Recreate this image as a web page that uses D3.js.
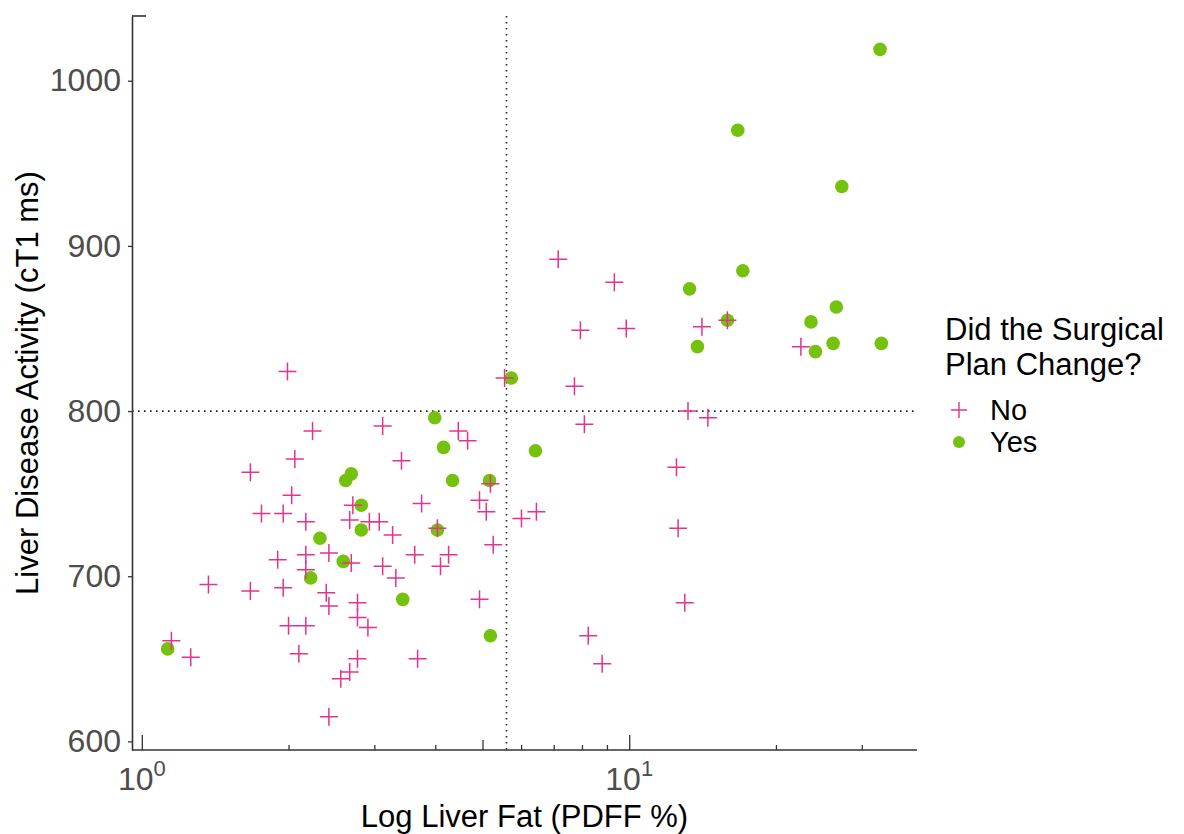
<!DOCTYPE html>
<html>
<head>
<meta charset="utf-8">
<script src="https://cdn.jsdelivr.net/npm/d3@7"></script>
<style>
    body { margin: 0; background: #fff; }
    text { font-family: "Liberation Sans", Arial, sans-serif; }
</style>
</head>
<body>
<div id="chart"></div>
<script>
// Liver fat vs cT1, split by whether the surgical plan changed
var noFat = [1.15, 1.26, 1.37, 1.67, 1.67, 1.76, 1.95, 1.90, 1.95, 1.99,
             2.00, 2.03, 2.06, 2.10, 2.17, 2.17, 2.17, 2.17, 2.24, 2.39,
             2.42, 2.42, 2.42, 2.56, 2.67, 2.67, 2.69, 2.71, 2.77, 2.77,
             2.77, 2.91, 2.93, 3.07, 3.12, 3.12, 3.27, 3.32, 3.41, 3.63,
             3.68, 3.75, 4.04, 4.10, 4.26, 4.46, 4.66, 4.93, 4.93, 5.09,
             5.19, 5.26, 5.55, 6.01, 6.45, 7.15, 7.72, 8.09, 7.94, 8.24,
             8.80, 9.32, 9.86, 12.5, 12.6, 13.0, 13.2, 14.1, 14.5, 15.9,
             22.5];
var noCt1 = [661, 651, 695, 691, 763, 738, 738, 710, 693, 824,
             670, 749, 771, 653, 733, 713, 704, 670, 788, 690,
             714, 682, 615, 638, 734, 642, 708, 743, 684, 675,
             650, 669, 733, 733, 706, 791, 725, 699, 770, 713,
             650, 744, 729, 706, 713, 788, 782, 746, 686, 739,
             756, 719, 820, 735, 739, 892, 815, 792, 849, 664,
             647, 878, 850, 766, 729, 684, 800, 851, 796, 855,
             839];
var yesFat = [1.13, 2.22, 2.59, 2.32, 2.62, 2.69, 2.82, 2.82, 3.43, 3.99,
              4.16, 4.34, 4.04, 5.17, 5.19, 5.73, 6.42, 13.3, 13.8, 15.9,
              16.7, 17.1, 23.6, 24.1, 26.2, 26.6, 27.3, 32.7, 32.9];
var yesCt1 = [656, 699, 709, 723, 758, 762, 743, 728, 686, 796,
              778, 758, 728, 758, 664, 820, 776, 874, 839, 855,
              970, 885, 854, 836, 841, 863, 936, 1019, 841];

var xMajorTicks = [1, 10];
var xMajorExp = ['0', '1'];
var xMidTicks = [5];
var xMinorTicks = [2, 3, 4, 6, 7, 8, 9, 20, 30];
var yTicks = [600, 700, 800, 900, 1000];
var fatCutoff = 5.6;
var ct1Cutoff = 800;
var legendTitle = ['Did the Surgical', 'Plan Change?'];
var legendLabels = ['No', 'Yes'];

(function () {
    const Width = 1184, Height = 834,
        Left = 132, Right = 917, Top = 16, Bottom = 750,
        Pink = '#e5338b', Green = '#74c20e',
        AxisColour = '#333333', TickText = '#4d4d4d',
        TickFont = 32, TitleFont = 31, LegendFont = 31, LabelFont = 29,
        Cross = 9, Dot = 6.8;

    var svg = d3.select('#chart')
        .append('svg')
        .attr('width', Width)
        .attr('height', Height);

    // ggplot style 5% padding, in log space for x
    var allFat = noFat.concat(yesFat),
        allCt1 = noCt1.concat(yesCt1);
    var lo = Math.log10(d3.min(allFat)), hi = Math.log10(d3.max(allFat)),
        padX = (hi - lo) * 0.05;
    var x = d3.scaleLog()
        .domain([Math.pow(10, lo - padX), Math.pow(10, hi + padX)])
        .range([Left, Right]);
    var yMin = d3.min(allCt1), yMax = d3.max(allCt1),
        padY = (yMax - yMin) * 0.05;
    var y = d3.scaleLinear()
        .domain([yMin - padY, yMax + padY])
        .range([Bottom, Top]);

    // reference lines
    var refs = svg.append('g')
        .attr('stroke', '#222')
        .attr('stroke-width', 1.6)
        .attr('stroke-dasharray', '1.6,4.4');
    refs.append('line')
        .attr('x1', x(fatCutoff)).attr('x2', x(fatCutoff))
        .attr('y1', Top).attr('y2', Bottom);
    refs.append('line')
        .attr('x1', Left).attr('x2', Right)
        .attr('y1', y(ct1Cutoff)).attr('y2', y(ct1Cutoff));

    // y axis
    var yAxis = svg.append('g')
        .attr('transform', `translate(${Left},0)`)
        .call(d3.axisLeft(y).tickValues(yTicks).tickFormat(d3.format('d'))
            .tickSize(4).tickSizeOuter(0).tickPadding(7));
    yAxis.select('.domain').attr('stroke', AxisColour).attr('stroke-width', 1.6);
    yAxis.selectAll('.tick line').attr('stroke', AxisColour).attr('stroke-width', 1.3);
    yAxis.selectAll('.tick text')
        .attr('fill', TickText)
        .style('font-size', TickFont + 'px')
        .style('font-family', '"Liberation Sans", Arial, sans-serif');
    svg.append('line')
        .attr('x1', Left).attr('x2', Left + 14)
        .attr('y1', Top).attr('y2', Top)
        .attr('stroke', AxisColour).attr('stroke-width', 1.6);

    // x axis with inward log ticks
    function logTicks(vals, len) {
        var g = svg.append('g')
            .attr('transform', `translate(0,${Bottom})`)
            .call(d3.axisBottom(x).tickValues(vals).tickSize(-len).tickSizeOuter(0).tickFormat(''));
        g.select('.domain').remove();
        g.selectAll('.tick line').attr('stroke', AxisColour).attr('stroke-width', 1.3);
        return g;
    }
    logTicks(xMinorTicks, 5);
    logTicks(xMidTicks, 10);
    logTicks(xMajorTicks, 15);
    svg.append('line')
        .attr('x1', Left).attr('x2', Right)
        .attr('y1', Bottom).attr('y2', Bottom)
        .attr('stroke', AxisColour).attr('stroke-width', 1.6);

    var xLabels = svg.append('g').selectAll('text')
        .data(xMajorTicks)
        .enter().append('text')
        .attr('x', d => x(d))
        .attr('y', Bottom + 40)
        .attr('text-anchor', 'middle')
        .attr('fill', TickText)
        .style('font-size', TickFont + 'px');
    xLabels.append('tspan').text('10');
    xLabels.append('tspan')
        .attr('dy', -14)
        .style('font-size', '22px')
        .text((d, i) => xMajorExp[i]);

    // points, green first so the crosses sit on top
    svg.append('g').selectAll('circle')
        .data(d3.range(yesFat.length))
        .enter().append('circle')
        .attr('cx', i => x(yesFat[i]))
        .attr('cy', i => y(yesCt1[i]))
        .attr('r', Dot)
        .attr('fill', Green);

    svg.append('g').selectAll('path')
        .data(d3.range(noFat.length))
        .enter().append('path')
        .attr('d', i => {
            var cx = x(noFat[i]), cy = y(noCt1[i]);
            return `M${cx - Cross},${cy}H${cx + Cross}M${cx},${cy - Cross}V${cy + Cross}`;
        })
        .attr('stroke', Pink)
        .attr('stroke-width', 1.5)
        .attr('fill', 'none');

    // axis titles
    svg.append('text')
        .attr('x', (Left + Right) / 2)
        .attr('y', 827)
        .attr('text-anchor', 'middle')
        .attr('fill', '#000')
        .style('font-size', TitleFont + 'px')
        .text('Log Liver Fat (PDFF %)');
    svg.append('text')
        .attr('transform', `translate(38,${(Top + Bottom) / 2}) rotate(-90)`)
        .attr('text-anchor', 'middle')
        .attr('fill', '#000')
        .style('font-size', TitleFont + 'px')
        .text('Liver Disease Activity (cT1 ms)');

    // legend
    var legend = svg.append('g');
    legend.selectAll('.leg-title')
        .data(legendTitle)
        .enter().append('text')
        .attr('class', 'leg-title')
        .attr('x', 945)
        .attr('y', (d, i) => 340 + i * 35)
        .attr('fill', '#000')
        .style('font-size', LegendFont + 'px')
        .text(d => d);
    var rowY = [410, 442];
    legend.append('path')
        .attr('d', `M951,${rowY[0]}H967M959,${rowY[0] - 8}V${rowY[0] + 8}`)
        .attr('stroke', Pink)
        .attr('stroke-width', 1.4);
    legend.append('circle')
        .attr('cx', 959).attr('cy', rowY[1]).attr('r', 6)
        .attr('fill', Green);
    legend.selectAll('.leg-label')
        .data(legendLabels)
        .enter().append('text')
        .attr('class', 'leg-label')
        .attr('x', 990)
        .attr('y', (d, i) => rowY[i] + 10)
        .attr('fill', '#000')
        .style('font-size', LabelFont + 'px')
        .text(d => d);
})();
</script>
</body>
</html>
